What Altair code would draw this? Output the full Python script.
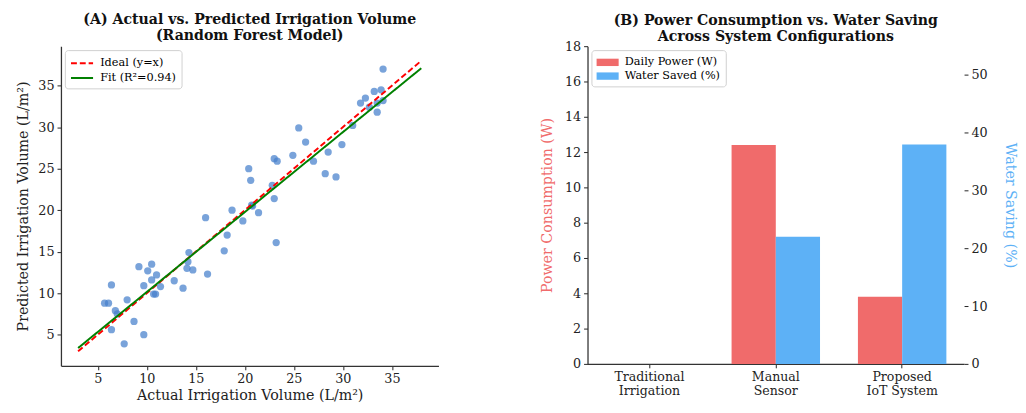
import altair as alt
import pandas as pd

# ---------- Panel A data ----------
actual = [5.7, 6.1, 6.4, 6.4, 6.8, 7.0, 7.7, 8.0, 8.7, 9.2, 9.7, 9.7, 10.1, 10.5, 10.5,
          10.7, 10.9, 11.0, 11.4, 12.8, 13.7, 14.1, 14.2, 14.3, 14.7, 16.0, 16.2, 17.9,
          18.2, 18.7, 19.8, 20.4, 20.6, 20.7, 20.8, 21.4, 22.8, 23.0, 23.0, 23.2, 23.3,
          24.9, 25.5, 26.2, 27.0, 28.2, 28.5, 29.3, 29.9, 31.0, 31.8, 32.3, 32.7, 33.2,
          33.5, 33.5, 33.9, 34.1, 34.1]
predicted = [8.8, 8.8, 11.0, 5.6, 7.9, 7.5, 3.9, 9.2, 6.6, 13.2, 10.9, 5.0, 12.7, 13.5, 11.6,
             9.9, 9.9, 12.2, 10.8, 11.5, 10.6, 13.0, 13.8, 14.9, 12.8, 19.1, 12.3, 15.1,
             17.0, 20.0, 18.7, 25.0, 23.6, 20.6, 20.5, 19.7, 23.0, 21.4, 26.2, 16.1, 25.9,
             26.6, 29.9, 28.2, 25.9, 24.4, 27.0, 24.0, 27.9, 30.2, 32.9, 33.5, 32.4, 34.3,
             32.9, 31.8, 34.5, 37.0, 33.2]

line_names = ["Ideal (y=x)", "Fit (R²=0.94)"]
line_x = [3.0, 38.0]
ideal_y = [3.0, 38.0]
fit_y = [3.4, 37.1]

# ---------- Panel B data ----------
systems = ["Traditional\nIrrigation", "Manual\nSensor", "Proposed\nIoT System"]
bar_series = ["Daily Power (W)", "Water Saved (%)"]
power_w = [0.0, 12.4, 3.8]
water_pct = [0.0, 22.0, 38.0]

SERIF = "DejaVu Serif"
RED = "#f06b6b"
BLUE = "#5db1f6"
TICK_FS = 13
TITLE_FS = 14.4
AXT_FS = 14.5
LEG_FS = 11.5

df_pts = pd.DataFrame({"actual": actual, "predicted": predicted})
df_lines = pd.DataFrame({
    "x": line_x + line_x,
    "y": ideal_y + fit_y,
    "series": [line_names[0]] * 2 + [line_names[1]] * 2,
})

xs = alt.Scale(domain=[1.25, 39.75], nice=False, zero=False)
ys = alt.Scale(domain=[1.25, 39.75], nice=False, zero=False)
ticks5 = [5, 10, 15, 20, 25, 30, 35]

pts = alt.Chart(df_pts).mark_circle(size=55, color="#4580cc", opacity=0.72).encode(
    x=alt.X("actual:Q", scale=xs,
            axis=alt.Axis(values=ticks5, title="Actual Irrigation Volume (L/m²)", titlePadding=3)),
    y=alt.Y("predicted:Q", scale=ys,
            axis=alt.Axis(values=ticks5, title="Predicted Irrigation Volume (L/m²)",
                          titlePadding=8)),
)

leg_common = dict(title=None, orient="top-left", symbolSize=225, symbolOffset=4,
                  labelOffset=10, labelFont=SERIF, labelFontSize=LEG_FS,
                  fillColor="white", strokeColor="#d0d0d0",
                  padding=5, cornerRadius=3, rowPadding=1, offset=4)

line_legend = alt.Legend(symbolType="M-1.5,0H1.5", symbolStrokeWidth=2, **leg_common)

lines = alt.Chart(df_lines).mark_line(strokeWidth=2).encode(
    x="x:Q",
    y="y:Q",
    color=alt.Color("series:N",
                    scale=alt.Scale(domain=line_names, range=["#ff0000", "#008000"]),
                    legend=line_legend),
    strokeDash=alt.StrokeDash("series:N",
                              scale=alt.Scale(domain=line_names, range=[[6, 3], [1, 0]]),
                              legend=line_legend),
)

left = alt.layer(pts, lines).properties(
    width=385, height=326,
    title=alt.TitleParams(
        text=["(A) Actual vs. Predicted Irrigation Volume", "(Random Forest Model)"],
        font=SERIF, fontWeight="bold", fontSize=TITLE_FS, lineHeight=16.5,
        anchor="middle", frame="group", offset=3),
)

# ---------- Panel B ----------
df_power = pd.DataFrame({"system": systems, "series": bar_series[0], "value": power_w})
df_water = pd.DataFrame({"system": systems, "series": bar_series[1], "value": water_pct})

xband = alt.X("system:N", sort=systems,
              scale=alt.Scale(paddingInner=0.3, paddingOuter=0.14),
              axis=alt.Axis(title=None, labelAngle=0, labelExpr="split(datum.label, '\\n')",
                            labelLineHeight=14, labelFontSize=12.8))
xoff = alt.XOffset("series:N", scale=alt.Scale(domain=bar_series, paddingInner=0, paddingOuter=0))
col = alt.Color("series:N",
                scale=alt.Scale(domain=bar_series, range=[RED, BLUE]),
                legend=alt.Legend(symbolType="M-1.5,-0.5H1.5V0.5H-1.5Z",
                                  symbolStrokeWidth=0, **leg_common))

power = alt.Chart(df_power).mark_bar().encode(
    x=xband, xOffset=xoff,
    y=alt.Y("value:Q", scale=alt.Scale(domain=[0, 18], nice=False),
            axis=alt.Axis(orient="left", values=list(range(0, 19, 2)),
                          title="Power Consumption (W)", titleColor=RED, titlePadding=10)),
    color=col,
)
water = alt.Chart(df_water).mark_bar().encode(
    x=xband, xOffset=xoff,
    y=alt.Y("value:Q", scale=alt.Scale(domain=[0, 55], nice=False),
            axis=alt.Axis(orient="right", values=[0, 10, 20, 30, 40, 50],
                          title="Water Saving (%)", titleColor=BLUE, domain=False,
                          titlePadding=16)),
    color=col,
)

right = alt.layer(power, water).resolve_scale(y="independent").properties(
    width=384, height=324,
    title=alt.TitleParams(
        text=["(B) Power Consumption vs. Water Saving", "Across System Configurations"],
        font=SERIF, fontWeight="bold", fontSize=TITLE_FS, lineHeight=16.5,
        anchor="middle", frame="group", offset=3, dy=7),
)

chart = alt.hconcat(left, right, spacing=103).resolve_scale(
    color="independent", strokeDash="independent"
).resolve_legend(
    color="independent", strokeDash="independent"
).properties(
    padding={"left": 7, "top": 0, "right": 0, "bottom": 0}
).configure_view(stroke=None).configure_axis(
    labelFont=SERIF, titleFont=SERIF, labelFontSize=TICK_FS, titleFontSize=AXT_FS,
    titleFontWeight="normal", labelColor="#222", titleColor="#222",
    grid=False, tickSize=4, tickColor="#222", domainColor="#333", domainWidth=1.3,
    labelPadding=3, titlePadding=6,
).configure_title(color="#111")

chart.save("out.html", embed_options={"renderer": "svg", "actions": False})
